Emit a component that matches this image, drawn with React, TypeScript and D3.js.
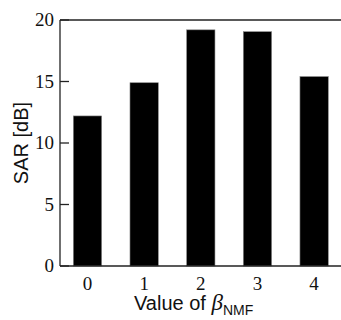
import React from "react";
import * as d3 from "d3";

const categories = ["0", "1", "2", "3", "4"];
const sarValues = [12.2, 14.9, 19.2, 19.05, 15.4];
const yTicks = [0, 5, 10, 15, 20];

export default function App() {
  const W = 341, H = 320;
  const left = 60, top = 20, bottom = 266, right = 341.6;
  const x = d3.scaleBand<string>().domain(categories).range([left, right]).paddingInner(0.5).paddingOuter(0.235);
  const y = d3.scaleLinear().domain([0, 20]).range([bottom, top]);
  const axisColor = "#222";
  return (
    <svg width={W} height={H} style={{ position: "fixed", left: 0, top: 0, background: "#fff" }}>
      {categories.map((c, i) => (
        <rect key={c} x={x(c)} y={y(sarValues[i])} width={x.bandwidth()} height={y(0) - y(sarValues[i])}
          fill="#000" stroke="#888" strokeWidth={0.6} />
      ))}
      <line x1={left} x2={W} y1={top} y2={top} stroke={axisColor} strokeWidth={1.3} />
      <line x1={left} x2={W} y1={bottom} y2={bottom} stroke={axisColor} strokeWidth={1.3} />
      <line x1={left} x2={left} y1={top} y2={bottom} stroke={axisColor} strokeWidth={1.3} />
      {yTicks.map(t => (
        <g key={t}>
          <line x1={left} x2={left + 9} y1={y(t)} y2={y(t)} stroke={axisColor} strokeWidth={1.3} />
          <text x={54} y={y(t)} dy="0.34em" textAnchor="end" fontFamily="Liberation Serif" fontSize={19} fill="#111">{t}</text>
        </g>
      ))}
      {categories.map(c => (
        <text key={c} x={(x(c) ?? 0) + x.bandwidth() / 2} y={289.5} textAnchor="middle" fontFamily="Liberation Serif" fontSize={19} fill="#111">{c}</text>
      ))}
      <text transform={`translate(28,${(top + bottom) / 2}) rotate(-90)`} textAnchor="middle" fontFamily="Liberation Sans" fontSize={20} fill="#111">SAR [dB]</text>
      <text x={134} y={310} fontFamily="Liberation Sans" fontSize={20} fill="#111">
        Value of <tspan fontFamily="Liberation Serif" fontStyle="italic" fontSize={23}>β</tspan>
        <tspan fontSize={14} dy={5}>NMF</tspan>
      </text>
    </svg>
  );
}
